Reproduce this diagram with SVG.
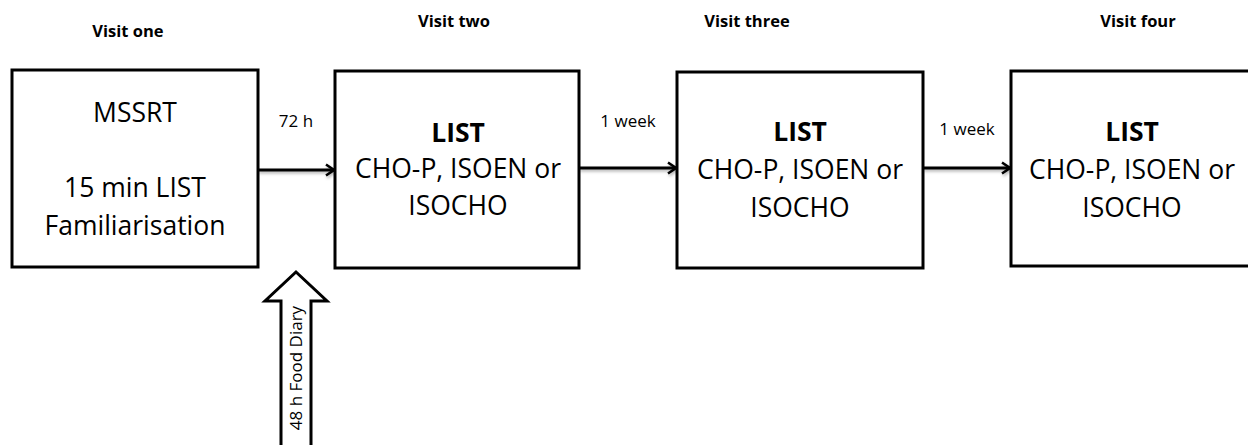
<svg xmlns="http://www.w3.org/2000/svg" width="1248" height="445" viewBox="0 0 1248 445">
  <style>
    .box { fill: #ffffff; stroke: #000000; stroke-width: 3; }
    .t { font-family: "Open Sans", "Liberation Sans", sans-serif; fill: #000000; text-anchor: middle; }
    .big { font-size: 26.5px; }
    .bold { font-weight: bold; }
    .small { font-size: 17px; }
    .head { font-size: 16.5px; font-weight: bold; }
    .link { stroke: #000000; stroke-width: 3; fill: none; }
  </style>
  <defs>
    <marker id="open" markerWidth="12" markerHeight="14" refX="10" refY="7" orient="auto" markerUnits="userSpaceOnUse">
      <path d="M2,1.5 L10,7 L2,12.5" fill="none" stroke="#000" stroke-width="2.5"/>
    </marker>
    <filter id="soft" filterUnits="userSpaceOnUse" x="0" y="0" width="1248" height="445">
      <feDropShadow dx="1" dy="2" stdDeviation="1.5" flood-color="#000" flood-opacity="0.3"/>
    </filter>
  </defs>

  <!-- visit headings -->
  <text class="t head" x="128" y="37">Visit one</text>
  <text class="t head" x="454" y="27">Visit two</text>
  <text class="t head" x="747" y="27">Visit three</text>
  <text class="t head" x="1138" y="27">Visit four</text>

  <!-- connectors -->
  <g id="connectors">
    <line class="link" x1="258" y1="170" x2="334" y2="170" marker-end="url(#open)" filter="url(#soft)"/>
    <line class="link" x1="579" y1="168" x2="676" y2="168" marker-end="url(#open)" filter="url(#soft)"/>
    <line class="link" x1="923" y1="168" x2="1010" y2="168" marker-end="url(#open)" filter="url(#soft)"/>
    <text class="t small" x="296" y="127">72 h</text>
    <text class="t small" x="628" y="127">1 week</text>
    <text class="t small" x="967" y="135">1 week</text>
  </g>

  <!-- visit one -->
  <g id="visit-one">
    <rect class="box" x="12" y="70" width="246" height="197"/>
    <text class="t big" x="135" y="122">MSSRT</text>
    <text class="t big" x="135" y="197">15 min LIST</text>
    <text class="t big" x="135" y="235">Familiarisation</text>
  </g>

  <!-- visit two -->
  <g id="visit-two">
    <rect class="box" x="335" y="71" width="244" height="197"/>
    <text class="t big bold" x="458" y="142">LIST</text>
    <text class="t big" x="458" y="178">CHO-P, ISOEN or</text>
    <text class="t big" x="458" y="215">ISOCHO</text>
  </g>

  <!-- visit three -->
  <g id="visit-three">
    <rect class="box" x="677" y="72" width="246" height="196"/>
    <text class="t big bold" x="800" y="141">LIST</text>
    <text class="t big" x="800" y="179">CHO-P, ISOEN or</text>
    <text class="t big" x="800" y="217">ISOCHO</text>
  </g>

  <!-- visit four -->
  <g id="visit-four">
    <rect class="box" x="1011" y="71" width="250" height="195"/>
    <text class="t big bold" x="1132" y="141">LIST</text>
    <text class="t big" x="1132" y="179">CHO-P, ISOEN or</text>
    <text class="t big" x="1132" y="217">ISOCHO</text>
  </g>

  <!-- food diary block arrow -->
  <g id="food-diary">
    <path d="M296,272 L327,301 L311,301 L311,447 L281,447 L281,301 L265,301 Z" fill="#ffffff" stroke="#000" stroke-width="3" stroke-linejoin="miter"/>
    <text class="t small" transform="translate(302,368) rotate(-90)">48 h Food Diary</text>
  </g>
</svg>
